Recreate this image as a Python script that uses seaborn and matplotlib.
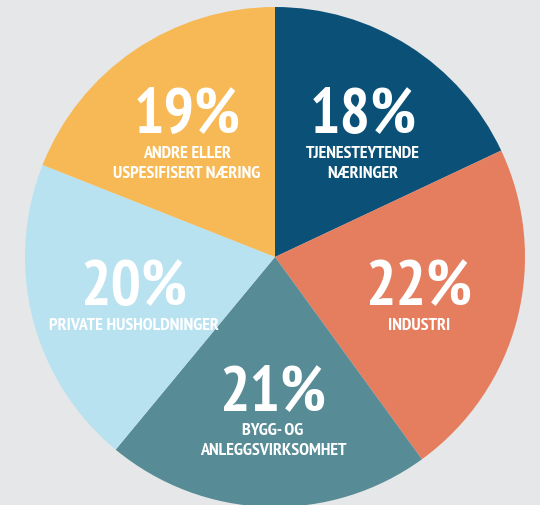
import matplotlib
matplotlib.use("Agg")
import matplotlib.pyplot as plt
from matplotlib import font_manager
import seaborn as sns

# data
sektorer = ["TJENESTEYTENDE\nNÆRINGER", "INDUSTRI", "BYGG- OG\nANLEGGSVIRKSOMHET",
            "PRIVATE HUSHOLDNINGER", "ANDRE ELLER\nUSPESIFISERT NÆRING"]
andel = [18, 22, 21, 20, 19]
farger = ["#0b5177", "#e57e5f", "#578b95", "#b9e2f1", "#f7b955"]

# tekstplassering i piksler (x, grunnlinje for prosent)
tekst_pos = [(363, 133), (419, 305), (273, 410), (134, 305), (187, 133)]

sns.set_theme(style="white")
plt.rcParams["font.family"] = ["DejaVu Sans"]


def finn_smal_font():
    """Leter etter en smal (condensed/narrow) fet skrift blant de installerte."""
    beste, beste_score = None, -1
    for f in font_manager.fontManager.ttflist:
        fn = f.fname.lower()
        smal = ("condensed" in fn or "narrow" in fn
                or str(f.stretch) in ("condensed", "semi-condensed", "extra-condensed", "ultra-condensed"))
        if not smal or "italic" in fn or "oblique" in fn or f.style != "normal":
            continue
        w = f.weight if isinstance(f.weight, int) else {"bold": 700, "normal": 400}.get(f.weight, 400)
        score = 0
        if 600 <= w <= 800:
            score += 10
        if "extra" in fn or "ultra" in fn:
            score += 2
        if "roboto" in fn or "narrow" in fn:
            score += 3
        if score > beste_score:
            beste, beste_score = f.fname, score
    return beste


smal_fil = finn_smal_font()
if smal_fil:
    fp = font_manager.FontProperties(fname=smal_fil)
    pst_size, lab_size = 46, 13
else:
    fp = font_manager.FontProperties(family="DejaVu Sans", weight="bold")
    pst_size, lab_size = 34, 10

bg = "#e6e7e8"
fig = plt.figure(figsize=(5.4, 5.06), dpi=100, facecolor=bg)
ax = fig.add_axes([0, 0, 1, 1])
ax.set_facecolor(bg)

cx, cy, r = 275, 258, 250
ax.pie(andel, colors=farger, startangle=90, counterclock=False,
       wedgeprops=dict(linewidth=0))
ax.set_aspect("auto")
ax.set_xlim(-cx / r, (540 - cx) / r)
ax.set_ylim(-(506 - cy) / r, cy / r)
ax.axis("off")

for navn, verdi, (px, py) in zip(sektorer, andel, tekst_pos):
    x = (px - cx) / r
    y = (cy - py) / r
    ax.text(x, y, f"{verdi}%", ha="center", va="baseline", color="white",
            fontproperties=fp, fontsize=pst_size)
    ax.text(x, y - 13 / r, navn, ha="center", va="top", color="white",
            fontproperties=fp, fontsize=lab_size, linespacing=1.35)

fig.savefig("out.png", dpi=100, facecolor=bg)
